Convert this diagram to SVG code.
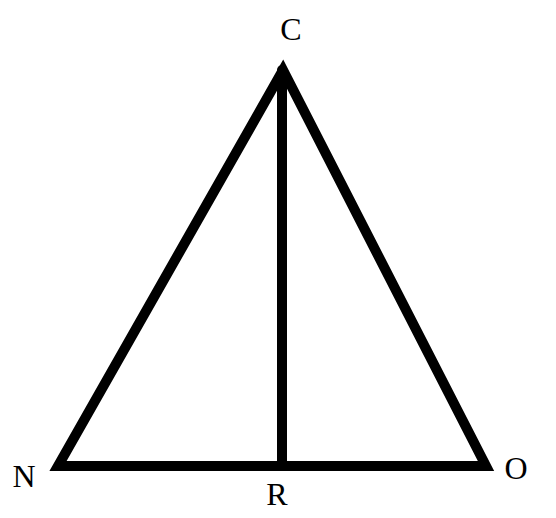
<svg xmlns="http://www.w3.org/2000/svg" width="556" height="518" viewBox="0 0 556 518">
<style>
.edge{stroke:#000;stroke-width:10;fill:none;stroke-linecap:round;stroke-linejoin:miter}
.lbl{font-family:"Liberation Serif","Times New Roman",serif;font-size:32px;fill:#000;text-anchor:middle}
</style>
<rect width="556" height="518" fill="#fff"/>
<g id="connectors">
<polygon class="edge" points="283,70 58,466 486,466"/>
<line class="edge" x1="282" y1="70" x2="282" y2="466"/>
</g>
<g id="C"><text class="lbl" x="291" y="40">C</text></g>
<g id="N"><text class="lbl" x="24" y="487">N</text></g>
<g id="O"><text class="lbl" x="516" y="479">O</text></g>
<g id="R"><text class="lbl" x="277" y="505">R</text></g>
</svg>
